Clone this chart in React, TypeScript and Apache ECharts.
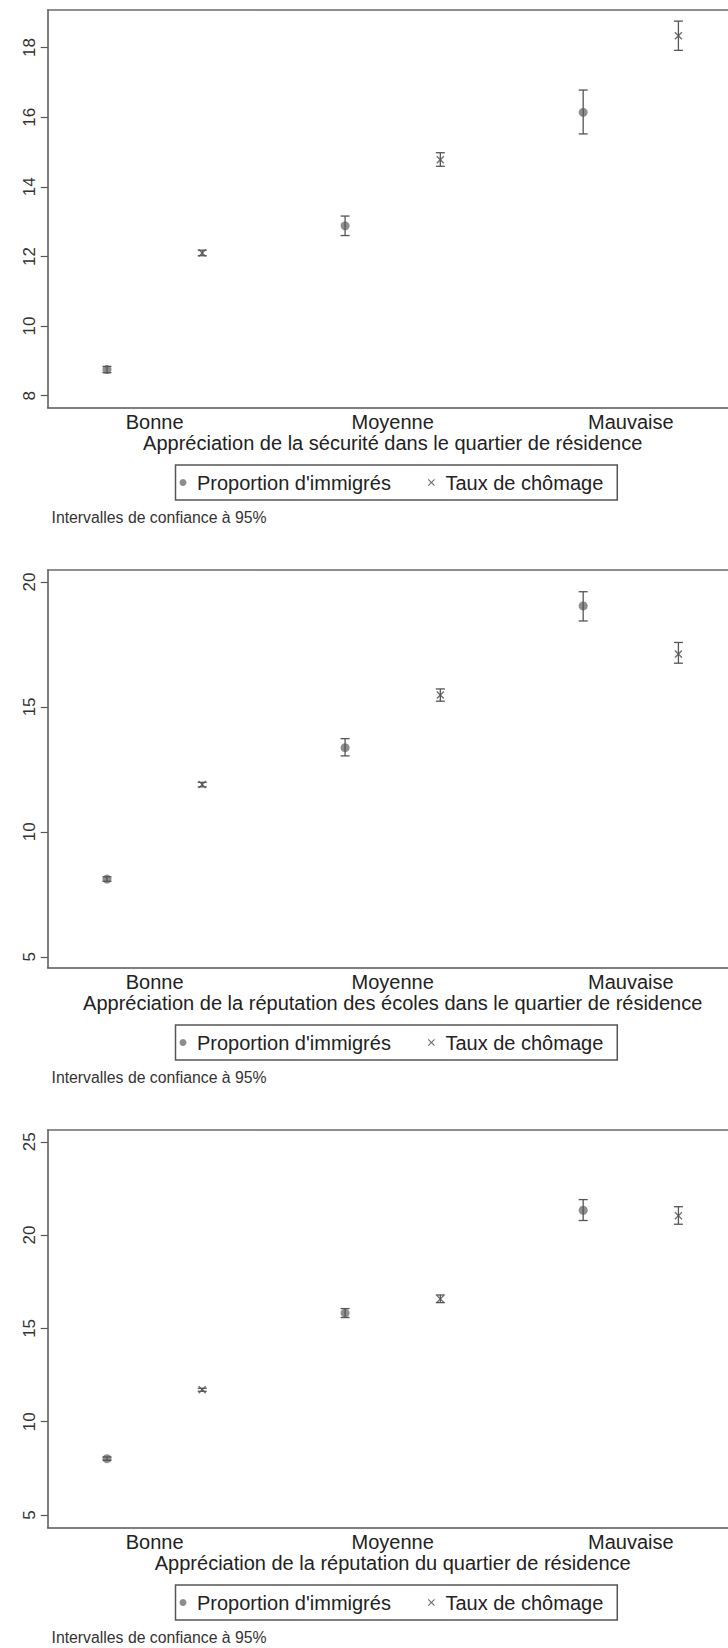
import React, { useEffect, useRef } from "react";
import * as echarts from "echarts";

// ---------- DATA ----------
const categories = ["Bonne", "Moyenne", "Mauvaise"];
const seriesNames = ["Proportion d'immigrés", "Taux de chômage"];
const axisTitles = [
  "Appréciation de la sécurité dans le quartier de résidence",
  "Appréciation de la réputation des écoles dans le quartier de résidence",
  "Appréciation de la réputation du quartier de résidence",
];
const noteText = "Intervalles de confiance à 95%";

// Panel 1 : sécurité
const propSecurite = [8.75, 12.88, 16.14];
const propSecuriteLow = [8.66, 12.6, 15.52];
const propSecuriteHigh = [8.84, 13.16, 16.78];
const tauxSecurite = [12.1, 14.78, 18.34];
const tauxSecuriteLow = [12.02, 14.59, 17.92];
const tauxSecuriteHigh = [12.18, 14.98, 18.76];
const ticksSecurite = [8, 10, 12, 14, 16, 18];
const rangeSecurite = [7.66, 19.08];

// Panel 2 : écoles
const propEcoles = [8.11, 13.37, 19.04];
const propEcolesLow = [8.02, 13.04, 18.44];
const propEcolesHigh = [8.2, 13.73, 19.61];
const tauxEcoles = [11.89, 15.48, 17.12];
const tauxEcolesLow = [11.8, 15.23, 16.75];
const tauxEcolesHigh = [11.98, 15.72, 17.58];
const ticksEcoles = [5, 10, 15, 20];
const rangeEcoles = [4.57, 20.48];

// Panel 3 : quartier
const propQuartier = [8.02, 15.82, 21.33];
const propQuartierLow = [7.93, 15.58, 20.78];
const propQuartierHigh = [8.11, 16.06, 21.9];
const tauxQuartier = [11.71, 16.58, 21.04];
const tauxQuartierLow = [11.63, 16.38, 20.58];
const tauxQuartierHigh = [11.79, 16.79, 21.52];
const ticksQuartier = [5, 10, 15, 20, 25];
const rangeQuartier = [4.33, 25.63];

// ---------- LAYOUT / STYLE ----------
const FONT = "'Liberation Sans', Arial, Helvetica, sans-serif";
const PANEL_STEP = 560;
const GRID_TOP = 10;
const GRID_LEFT = 47.7;
const GRID_W = 690;
const GRID_H = 397.5;
const X_MIN = 0.551;
const X_MAX = 3.449;
const OFFSET = 0.2;
const AXIS_COLOR = "#555";
const TEXT_COLOR = "#222";
const PROP_COLOR = "#8e8e8e";
const TAUX_COLOR = "#707070";
const BAR_COLOR = "#555";
const CROSS =
  "path://M0,1.2L1.2,0L5,3.8L8.8,0L10,1.2L6.2,5L10,8.8L8.8,10L5,6.2L1.2,10L0,8.8L3.8,5Z";

const panels = [
  {
    title: axisTitles[0],
    prop: propSecurite, propLow: propSecuriteLow, propHigh: propSecuriteHigh,
    taux: tauxSecurite, tauxLow: tauxSecuriteLow, tauxHigh: tauxSecuriteHigh,
    ticks: ticksSecurite, range: rangeSecurite,
  },
  {
    title: axisTitles[1],
    prop: propEcoles, propLow: propEcolesLow, propHigh: propEcolesHigh,
    taux: tauxEcoles, tauxLow: tauxEcolesLow, tauxHigh: tauxEcolesHigh,
    ticks: ticksEcoles, range: rangeEcoles,
  },
  {
    title: axisTitles[2],
    prop: propQuartier, propLow: propQuartierLow, propHigh: propQuartierHigh,
    taux: tauxQuartier, tauxLow: tauxQuartierLow, tauxHigh: tauxQuartierHigh,
    ticks: ticksQuartier, range: rangeQuartier,
  },
];

function errorBarRender(params: any, api: any) {
  const x = api.value(0);
  const lo = api.value(1);
  const hi = api.value(2);
  const p1 = api.coord([x, lo]);
  const p2 = api.coord([x, hi]);
  const hw = 4.5;
  const style = { stroke: BAR_COLOR, lineWidth: 1.3 };
  return {
    type: "group",
    children: [
      { type: "line", shape: { x1: p1[0], y1: p1[1], x2: p2[0], y2: p2[1] }, style },
      { type: "line", shape: { x1: p1[0] - hw, y1: p1[1], x2: p1[0] + hw, y2: p1[1] }, style },
      { type: "line", shape: { x1: p2[0] - hw, y1: p2[1], x2: p2[0] + hw, y2: p2[1] }, style },
    ],
  };
}

function buildOption() {
  const grid: any[] = [];
  const xAxis: any[] = [];
  const yAxis: any[] = [];
  const series: any[] = [];
  const legend: any[] = [];
  const graphic: any[] = [];

  panels.forEach((p, i) => {
    const top = GRID_TOP + PANEL_STEP * i;
    grid.push({
      left: GRID_LEFT,
      top,
      width: GRID_W,
      height: GRID_H,
      outerBoundsMode: "none",
      containLabel: false,
      show: false,
    });
    // bottom axis (categories)
    xAxis.push({
      gridIndex: i,
      type: "value",
      position: "bottom",
      min: X_MIN,
      max: X_MAX,
      axisLine: { show: true, onZero: false, lineStyle: { color: AXIS_COLOR, width: 1.5 } },
      axisTick: { show: false },
      splitLine: { show: false },
      axisLabel: {
        customValues: [1, 2, 3],
        formatter: (v: number) => categories[Math.round(v) - 1] || "",
        fontSize: 20,
        fontFamily: FONT,
        color: TEXT_COLOR,
        margin: 4,
      },
      name: p.title,
      nameLocation: "middle",
      nameGap: 25,
      nameTextStyle: { fontSize: 20, fontFamily: FONT, color: TEXT_COLOR },
    });
    // top frame line
    xAxis.push({
      gridIndex: i,
      type: "value",
      position: "top",
      min: X_MIN,
      max: X_MAX,
      axisLine: { show: true, onZero: false, lineStyle: { color: "#6a6a6a", width: 1.5 } },
      axisTick: { show: false },
      axisLabel: { show: false },
      splitLine: { show: false },
    });
    yAxis.push({
      gridIndex: i,
      type: "value",
      min: p.range[0],
      max: p.range[1],
      axisLine: { show: true, onZero: false, lineStyle: { color: AXIS_COLOR, width: 1.5 } },
      axisTick: { show: true, customValues: p.ticks, length: 7, lineStyle: { color: AXIS_COLOR, width: 1.2 } },
      splitLine: { show: false },
      axisLabel: {
        customValues: p.ticks,
        rotate: 90,
        fontSize: 17,
        fontFamily: FONT,
        color: "#333",
        margin: 10,
      },
    });

    const xIdx = 2 * i;
    const xProp = categories.map((_, k) => k + 1 - OFFSET);
    const xTaux = categories.map((_, k) => k + 1 + OFFSET);

    series.push({
      type: "scatter",
      name: seriesNames[0],
      xAxisIndex: xIdx,
      yAxisIndex: i,
      symbol: "circle",
      symbolSize: 9,
      itemStyle: { color: PROP_COLOR, opacity: 1 },
      z: 2,
      data: p.prop.map((v, k) => [xProp[k], v]),
    });
    series.push({
      type: "scatter",
      name: seriesNames[1],
      xAxisIndex: xIdx,
      yAxisIndex: i,
      symbol: CROSS,
      symbolSize: 8,
      itemStyle: { color: TAUX_COLOR, opacity: 1 },
      z: 2,
      data: p.taux.map((v, k) => [xTaux[k], v]),
    });
    series.push({
      type: "custom",
      xAxisIndex: xIdx,
      yAxisIndex: i,
      silent: true,
      z: 3,
      renderItem: errorBarRender,
      encode: { x: 0, y: [1, 2] },
      data: p.propLow.map((lo, k) => [xProp[k], lo, p.propHigh[k]]),
    });
    series.push({
      type: "custom",
      xAxisIndex: xIdx,
      yAxisIndex: i,
      silent: true,
      z: 3,
      renderItem: errorBarRender,
      encode: { x: 0, y: [1, 2] },
      data: p.tauxLow.map((lo, k) => [xTaux[k], lo, p.tauxHigh[k]]),
    });

    legend.push({
      left: 175.5,
      top: 465 + PANEL_STEP * i,
      orient: "horizontal",
      padding: [7.5, 14, 7.5, 4],
      itemGap: 37,
      itemWidth: 18,
      itemHeight: 7,
      borderColor: "#555",
      borderWidth: 1.5,
      borderRadius: 0,
      selectedMode: false,
      textStyle: { fontSize: 20, fontFamily: FONT, color: TEXT_COLOR },
      data: [
        { name: seriesNames[0], icon: "circle" },
        { name: seriesNames[1], icon: CROSS },
      ],
    });

    graphic.push({
      type: "text",
      x: 51.5,
      y: 517.5 + PANEL_STEP * i,
      style: {
        text: noteText,
        fontSize: 15.8,
        fontFamily: FONT,
        fill: "#333",
        verticalAlign: "middle",
        align: "left",
      },
    });
  });

  return {
    animation: false,
    backgroundColor: "#ffffff",
    grid,
    xAxis,
    yAxis,
    series,
    legend,
    graphic,
  };
}

export default function App() {
  const ref = useRef<HTMLDivElement>(null);
  useEffect(() => {
    if (!ref.current) return;
    const chart = echarts.init(ref.current, undefined, { renderer: "svg" });
    chart.setOption(buildOption() as any);
    return () => {
      chart.dispose();
    };
  }, []);
  return (
    <div
      ref={ref}
      style={{ position: "absolute", left: 0, top: 0, width: 728, height: 1648, background: "#fff" }}
    />
  );
}
